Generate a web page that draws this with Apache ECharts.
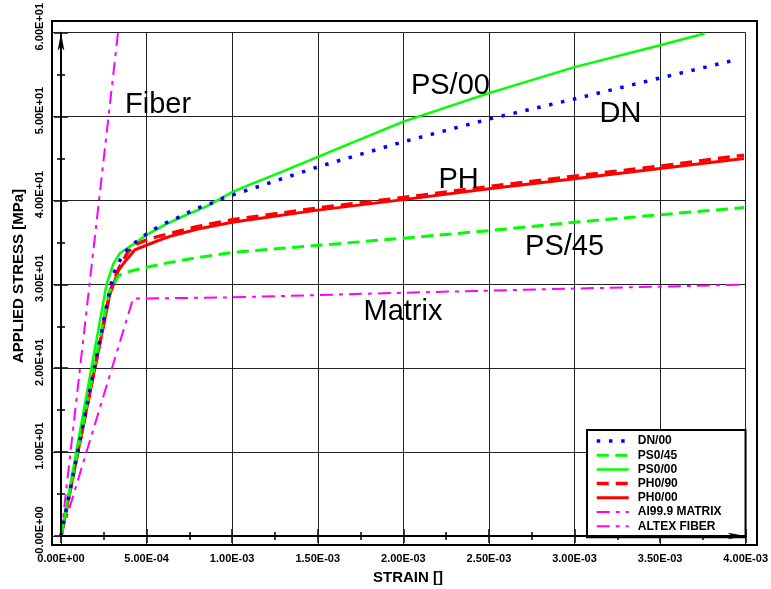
<!DOCTYPE html>
<html>
<head>
<meta charset="utf-8">
<script src="https://cdn.jsdelivr.net/npm/echarts@6/dist/echarts.min.js"></script>
<style>
  html, body { margin: 0; padding: 0; background: #fff; }
  #chart { width: 771px; height: 589px; }
</style>
</head>
<body>
<div id="chart"></div>
<script>
// ---- data: [strain, stress in MPa] ----
const seriesNames = ['DN/00', 'PS0/45', 'PS0/00', 'PH0/90', 'PH0/00', 'AI99.9 MATRIX', 'ALTEX FIBER'];

const dn00 = [[0, 0], [2.75e-4, 28.3], [2.91e-4, 29.8], [3.05e-4, 31.2], [3.34e-4, 32.5], [3.73e-4, 33.85],
  [4.21e-4, 34.8], [4.85e-4, 35.8], [5.47e-4, 36.6], [6.11e-4, 37.3], [6.77e-4, 37.9], [7.47e-4, 38.6],
  [8.13e-4, 39.2], [8.83e-4, 39.7], [9.49e-4, 40.3], [1.023e-3, 40.8], [1.1e-3, 41.3], [1.5e-3, 44.0],
  [2.0e-3, 47.0], [2.5e-3, 49.7], [3.0e-3, 52.1], [3.5e-3, 54.6], [3.95e-3, 56.8]];

const ps045 = [[0, 0], [2.8e-4, 29.0], [3.05e-4, 29.9], [3.34e-4, 31.0], [3.73e-4, 31.4], [4.5e-4, 31.8],
  [6.06e-4, 32.5], [8.0e-4, 33.2], [1.0e-3, 33.8], [1.5e-3, 34.65], [2.0e-3, 35.5], [2.5e-3, 36.4],
  [3.0e-3, 37.4], [3.5e-3, 38.3], [3.99e-3, 39.15]];

const ps000 = [[0, 0], [2.66e-4, 30.0], [3.05e-4, 32.4], [3.43e-4, 33.7], [4.31e-4, 34.9], [5.0e-4, 35.9],
  [6.06e-4, 37.1], [7.0e-4, 38.0], [8.5e-4, 39.3], [1.0e-3, 41.0], [1.1e-3, 41.85], [1.3e-3, 43.5],
  [1.5e-3, 45.2], [2.0e-3, 49.4], [2.5e-3, 52.8], [3.0e-3, 55.9], [3.5e-3, 58.5], [3.76e-3, 59.9]];

const ph090 = [[0, 0], [2.85e-4, 29.0], [3.1e-4, 30.6], [3.4e-4, 32.0], [3.92e-4, 33.9], [4.5e-4, 34.9],
  [5.28e-4, 35.5], [6.06e-4, 35.9], [8.0e-4, 36.9], [1.0e-3, 37.7], [1.5e-3, 39.1], [2.0e-3, 40.35],
  [2.5e-3, 41.65], [3.0e-3, 42.9], [3.5e-3, 44.1], [3.99e-3, 45.4]];

const ph000 = [[0, 0], [2.85e-4, 28.8], [3.1e-4, 30.2], [3.34e-4, 31.6], [3.73e-4, 32.7], [4.31e-4, 34.1],
  [5.28e-4, 34.9], [6.06e-4, 35.5], [6.5e-4, 35.8], [8.0e-4, 36.6], [1.0e-3, 37.4], [1.5e-3, 38.85],
  [2.0e-3, 40.1], [2.5e-3, 41.4], [3.0e-3, 42.6], [3.5e-3, 43.8], [3.99e-3, 45.0]];

const matrix = [[0, 0], [4.21e-4, 28.3], [1.0e-3, 28.45], [2.0e-3, 29.0], [3.0e-3, 29.5], [3.97e-3, 29.95]];

const fiber = [[0, 0], [3.33e-4, 60]];

// curve labels placed in data coordinates
const noteTexts = ['Fiber', 'PS/00', 'DN', 'PH', 'PS/45', 'Matrix'];
const noteAt = [[5.67e-4, 51.4], [2.275e-3, 53.7], [3.269e-3, 50.25], [2.323e-3, 42.45], [2.942e-3, 34.45], [1.998e-3, 26.7]];

// axis ranges
const xMax = 0.004, xStep = 0.0005;
const yMax = 60, yStep = 10;

// ---- layout ----
const G = { left: 61, right: 23, top: 30, bottom: 53 };
const OFF = 9;              // frame sits this far outside the data area
const W = 771, H = 589;
const mainFont = '"Liberation Sans", Arial, Helvetica, sans-serif';

function sci(v) {
  if (v === 0) return '0.00E+00';
  const parts = v.toExponential(2).split('e');
  const n = parseInt(parts[1], 10);
  return parts[0] + 'E' + (n < 0 ? '-' : '+') + String(Math.abs(n)).padStart(2, '0');
}

const hidden = {
  axisLine: { show: false }, axisTick: { show: false }, axisLabel: { show: false },
  splitLine: { show: false }, minorTick: { show: false }, minorSplitLine: { show: false }
};

function axis(kind, extra) {
  const base = kind === 'x'
    ? { type: 'value', min: 0, max: xMax, interval: xStep }
    : { type: 'value', min: 0, max: yMax, interval: yStep };
  return Object.assign({}, base, hidden, { silent: true, axisPointer: { show: false } }, extra);
}

const outTick = { show: true, inside: false, length: 7, lineStyle: { color: '#000', width: 1.5 } };
const outMinor = { show: true, splitNumber: 2, length: 4, lineStyle: { color: '#000', width: 1.5 } };
const gapTick = { show: true, inside: true, length: OFF, lineStyle: { color: '#222', width: 1 } };
const gridLine = { show: true, lineStyle: { color: '#222', width: 1 } };
const arrowLine = (size) => ({
  show: true, onZero: false, lineStyle: { color: '#000', width: 2 },
  symbol: ['none', 'arrow'], symbolSize: size, symbolOffset: [0, 0]
});
const tickLabel = { show: true, fontFamily: mainFont, fontWeight: 'bold', fontSize: 11, color: '#000', formatter: sci };

const xAxes = [
  axis('x', { position: 'bottom', splitLine: gridLine }),
  axis('x', {
    position: 'bottom', offset: OFF, axisTick: outTick, minorTick: outMinor,
    axisLabel: Object.assign({}, tickLabel, { margin: 8 })
  }),
  axis('x', { position: 'top', offset: OFF, axisTick: outTick, minorTick: outMinor }),
  axis('x', { position: 'bottom', offset: OFF, axisTick: gapTick }),
  axis('x', { position: 'top', offset: OFF, axisTick: gapTick }),
  // strain arrow along zero stress, drawn above the legend box
  axis('x', { position: 'bottom', z: 10, axisLine: arrowLine([5, 18]) })
];

const yAxes = [
  axis('y', { position: 'left', splitLine: gridLine }),
  axis('y', {
    position: 'left', offset: OFF, axisTick: outTick, minorTick: outMinor,
    axisLabel: Object.assign({}, tickLabel, { rotate: 90, margin: 7, padding: [0, 0, 0, 12] })
  }),
  axis('y', { position: 'right', offset: OFF, axisTick: outTick, minorTick: outMinor }),
  axis('y', { position: 'left', offset: OFF, axisTick: gapTick }),
  axis('y', { position: 'right', offset: OFF, axisTick: gapTick }),
  // stress arrow along zero strain
  axis('y', { position: 'left', z: 10, axisLine: arrowLine([5, 18]) })
];

function line(name, data, color, width, type, z) {
  return {
    name: name, type: 'line', data: data, xAxisIndex: 0, yAxisIndex: 0,
    symbol: 'none', showSymbol: false, smooth: false, silent: true, z: z,
    lineStyle: { color: color, width: width, type: type, cap: 'butt' },
    itemStyle: { color: color }
  };
}

const dashDot = [13, 6, 4, 6];

const series = [
  line(seriesNames[6], fiber, '#ff00ff', 2, dashDot, 2),
  line(seriesNames[5], matrix, '#ff00ff', 2, dashDot, 2),
  line(seriesNames[4], ph000, '#ff0000', 3, 'solid', 3),
  line(seriesNames[3], ph090, '#ff0000', 3.5, [12, 7], 3),
  line(seriesNames[1], ps045, '#00ff00', 3, [12, 6.5], 3),
  line(seriesNames[2], ps000, '#00ff00', 2.5, 'solid', 4),
  line(seriesNames[0], dn00, '#0000ff', 3.5, [3.5, 8.7], 5),
  {
    name: 'notes', type: 'scatter', xAxisIndex: 0, yAxisIndex: 0, symbolSize: 0, silent: true, z: 6,
    itemStyle: { opacity: 1 },
    data: noteAt.map((p, i) => ({ value: p, name: noteTexts[i] })),
    label: {
      show: true, position: 'inside', formatter: (p) => p.name,
      fontFamily: mainFont, fontWeight: 'normal', fontSize: 29, color: '#000', opacity: 1
    }
  }
];

const chart = echarts.init(document.getElementById('chart'), null, { renderer: 'canvas', width: W, height: H });

chart.setOption({
  backgroundColor: '#fff',
  animation: false,
  grid: { left: G.left, right: G.right, top: G.top, bottom: G.bottom, containLabel: false },
  xAxis: xAxes,
  yAxis: yAxes,
  legend: {
    data: seriesNames,
    orient: 'vertical',
    left: 587, top: 430,
    padding: [5, 24, 5, 8],
    itemWidth: 32, itemHeight: 10, itemGap: 2.2,
    backgroundColor: '#fff', borderColor: '#000', borderWidth: 2, borderRadius: 0,
    selectedMode: false,
    itemStyle: { opacity: 0 },
    lineStyle: { width: 'inherit', type: 'inherit' },
    textStyle: { fontFamily: mainFont, fontWeight: 'bold', fontSize: 12, color: '#000', padding: [0, 0, 0, 4] }
  },
  graphic: [
    {
      type: 'rect', silent: true, z: 10,
      shape: { x: G.left - OFF, y: G.top - OFF, width: W - G.left - G.right + 2 * OFF, height: H - G.top - G.bottom + 2 * OFF },
      style: { fill: null, stroke: '#000', lineWidth: 2 }
    },
    {
      type: 'text', silent: true, x: 19, y: 276, rotation: Math.PI / 2,
      style: { text: 'APPLIED STRESS [MPa]', font: 'bold 15px ' + mainFont, fill: '#000', align: 'center', verticalAlign: 'middle' }
    },
    {
      type: 'text', silent: true, x: 408, y: 578,
      style: { text: 'STRAIN []', font: 'bold 15px ' + mainFont, fill: '#000', align: 'center', verticalAlign: 'middle' }
    }
  ],
  series: series
});
</script>
</body>
</html>
